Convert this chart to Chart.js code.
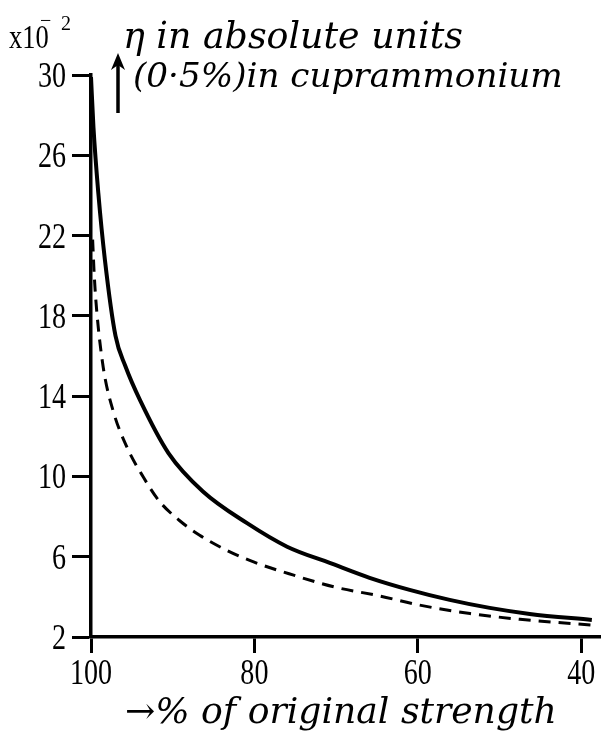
<!DOCTYPE html>
<html lang="en">
<head>
<meta charset="UTF-8">
<title>Viscosity vs strength</title>
<script src="https://cdn.jsdelivr.net/npm/chart.js@4.4.1/dist/chart.umd.min.js"></script>
<style>
  html, body { margin: 0; padding: 0; background: #fff; }
  #wrap { width: 603px; height: 735px; }
</style>
</head>
<body>
<div id="wrap"><canvas id="chart" width="603" height="735"></canvas></div>
<script>
// solid curve
const strengthSolid = [100, 99.7, 99.1, 98.3, 97.0, 95.8, 94.0, 90.5, 86.3, 80.9, 76.0, 70.7, 65.9, 61.0, 56.1, 51.2, 46.3, 38.7];
const etaSolid      = [29.9, 27.4, 24.1, 20.8, 17.0, 15.5, 13.8, 11.15, 9.25, 7.67, 6.5, 5.68, 4.95, 4.35, 3.85, 3.45, 3.15, 2.85];
// dashed curve
const strengthDashed = [99.8, 99.6, 99.3, 98.5, 97.3, 95.6, 93.6, 91.6, 89.1, 86.7, 83.4, 80.1, 75.2, 70.3, 64.6, 59.8, 53.6, 47.5, 38.7];
const etaDashed      = [21.8, 20.0, 18.25, 15.43, 13.28, 11.46, 9.97, 8.75, 7.78, 7.07, 6.32, 5.74, 5.08, 4.5, 4.04, 3.59, 3.17, 2.88, 2.59];

const xTicks = [100, 80, 60, 40];
const yTicks = [2, 6, 10, 14, 18, 22, 26, 30];

const toPts = (xs, ys) => xs.map((x, i) => ({x: x, y: ys[i]}));

const serif = "'Liberation Serif', 'DejaVu Serif', serif";
const ital = "'DejaVu Serif', 'Liberation Serif', serif";

function fitText(ctx, text, x, y, width, family) {
  ctx.font = 'italic 40px ' + family;
  const w = ctx.measureText(text).width;
  const size = 40 * width / w;
  ctx.font = 'italic ' + size.toFixed(2) + 'px ' + family;
  ctx.fillText(text, x, y);
}

// narrow upright digits like the old plate
function narrowText(ctx, text, x, y, align, size) {
  ctx.save();
  ctx.translate(x, y);
  ctx.scale(0.78, 1);
  ctx.font = size + 'px ' + serif;
  ctx.textAlign = align;
  ctx.textBaseline = 'alphabetic';
  ctx.fillText(text, 0, 0);
  ctx.restore();
}

const labels = {
  id: 'labels',
  afterDraw(chart) {
    const ctx = chart.ctx;
    const xs = chart.scales.x, ys = chart.scales.y;
    ctx.save();
    ctx.fillStyle = '#000';
    ctx.strokeStyle = '#000';

    // tick labels
    ys.ticks.forEach(t => {
      narrowText(ctx, String(t.value), 66, ys.getPixelForValue(t.value) + 12, 'right', 36);
    });
    xs.ticks.forEach(t => {
      narrowText(ctx, String(t.value), xs.getPixelForValue(t.value), 684, 'center', 36);
    });

    // multiplier
    narrowText(ctx, 'x10', 9, 48, 'left', 34);
    ctx.font = '20px ' + serif;
    ctx.textAlign = 'left';
    ctx.fillText('\u2212', 40, 27);
    ctx.fillText('2', 61, 30);

    // y title
    fitText(ctx, '\u03b7 in absolute units', 123, 48, 340, ital);
    fitText(ctx, '(0\u00b75%)in cuprammonium', 133, 87, 430, ital);

    // up arrow
    ctx.lineWidth = 3.5;
    ctx.beginPath();
    ctx.moveTo(118, 113);
    ctx.lineTo(118, 60);
    ctx.stroke();
    ctx.beginPath();
    ctx.moveTo(118, 53);
    ctx.lineTo(111, 70);
    ctx.lineTo(118, 65);
    ctx.lineTo(125, 70);
    ctx.closePath();
    ctx.fill();

    // x title
    fitText(ctx, '\u2192% of original strength', 125, 723, 432, ital);
    ctx.restore();
  }
};

new Chart(document.getElementById('chart'), {
  type: 'line',
  data: {
    datasets: [{
      data: toPts(strengthSolid, etaSolid),
      borderColor: '#000',
      borderWidth: 4,
      pointRadius: 0,
      cubicInterpolationMode: 'monotone',
      fill: false
    }, {
      data: toPts(strengthDashed, etaDashed),
      borderColor: '#000',
      borderWidth: 3,
      borderDash: [12, 8],
      pointRadius: 0,
      cubicInterpolationMode: 'monotone',
      fill: false
    }]
  },
  options: {
    responsive: false,
    animation: false,
    layout: { padding: { top: 75, right: 3, left: 0, bottom: 0 } },
    plugins: { legend: { display: false }, tooltip: { enabled: false }, title: { display: false } },
    scales: {
      x: {
        type: 'linear',
        reverse: true,
        min: 37.7,
        max: 100,
        afterBuildTicks: s => { s.ticks = xTicks.map(v => ({value: v})); },
        afterFit: s => { s.height = 98; },
        ticks: { display: false },
        grid: { drawOnChartArea: false, drawTicks: true, tickLength: 16, tickWidth: 3, color: '#000' },
        border: { display: true, width: 3.5, color: '#000' }
      },
      y: {
        min: 2,
        max: 30,
        afterBuildTicks: s => { s.ticks = yTicks.map(v => ({value: v})); },
        afterFit: s => { s.width = 91; },
        ticks: { display: false },
        grid: { drawOnChartArea: false, drawTicks: true, tickLength: 19, tickWidth: 3, color: '#000' },
        border: { display: true, width: 3.5, color: '#000' }
      }
    }
  },
  plugins: [labels]
});
</script>
</body>
</html>
